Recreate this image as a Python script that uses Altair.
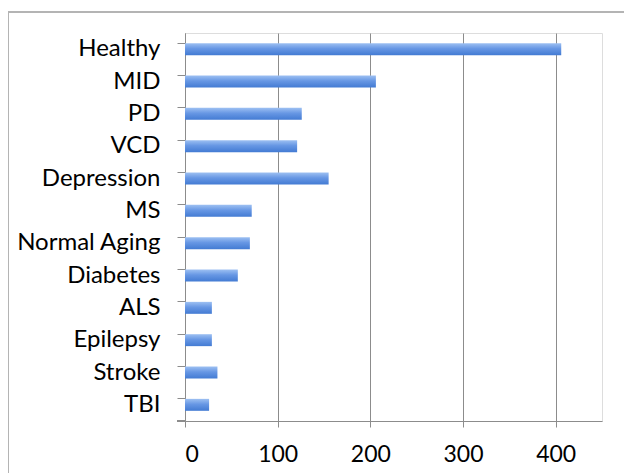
import altair as alt
import pandas as pd

categories = ["Healthy", "MID", "PD", "VCD", "Depression", "MS", "Normal Aging",
              "Diabetes", "ALS", "Epilepsy", "Stroke", "TBI"]
values = [406, 206, 126, 121, 155, 72, 70, 57, 29, 29, 35, 26]
x_ticks = [0, 100, 200, 300, 400]

df = pd.DataFrame({"cat": categories, "val": values})

W, H = 417, 388
FONT = "Lato"

grad = alt.Gradient(
    gradient="linear", x1=0, y1=0, x2=0, y2=1,
    stops=[alt.GradientStop(color="#9dc0f2", offset=0),
           alt.GradientStop(color="#6797e4", offset=0.45),
           alt.GradientStop(color="#437bd3", offset=1)],
)

base = alt.Chart(df)

bars = base.mark_bar(color=grad).encode(
    x=alt.X("val:Q", scale=alt.Scale(domain=[0, 450], nice=False),
            axis=alt.Axis(values=x_ticks, title=None, grid=True, gridColor="#8c8c8c",
                          domainColor="#8c8c8c", tickColor="#8c8c8c", tickSize=6,
                          labelFontSize=23, labelFont=FONT, labelColor="#000",
                          labelPadding=16, format="d")),
    y=alt.Y("cat:N", sort=categories,
            scale=alt.Scale(paddingInner=0.63, paddingOuter=0.315),
            axis=alt.Axis(title=None, bandPosition=0, tickSize=8, tickColor="#8c8c8c",
                          domainColor="#8c8c8c", labelFontSize=24, labelFont=FONT,
                          labelColor="#000", labelPadding=17, grid=False)),
)

bottom_tick = base.mark_rule(color="#8c8c8c").encode(
    x=alt.value(-8), x2=alt.value(0), y=alt.value(H)
)

border = base.mark_rect(fill=None, stroke="#b4b4b4", strokeWidth=1.5, clip=False).encode(
    x=alt.value(-177), x2=alt.value(W + 60), y=alt.value(-21), y2=alt.value(H + 70)
)

chart = alt.layer(border, bars, bottom_tick).properties(
    width=W, height=H,
    autosize=alt.AutoSizeParams(type="none"),
    padding={"left": 177, "top": 25, "right": 22, "bottom": 52},
).configure_view(stroke=None).configure(background="white")

chart.save("out.html", embed_options={"renderer": "svg", "actions": False})
